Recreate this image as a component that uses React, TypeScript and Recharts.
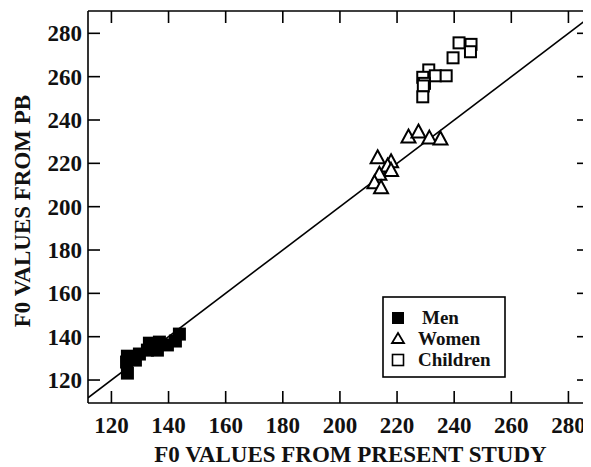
import React from 'react';
import { ScatterChart, Scatter, XAxis, YAxis, ReferenceLine, Legend, Label } from 'recharts';

// ---- data (F0 in Hz) ----
const menPresent = [125.6, 125.3, 125.6, 128.4, 129.8, 132.6, 133.3, 136.1, 136.8, 139.6, 142.4, 143.8];
const menPB = [123.2, 128.3, 131.0, 129.2, 132.0, 133.8, 137.0, 133.8, 137.5, 136.2, 138.0, 141.2];

const womenPresent = [213.2, 217.9, 216.7, 217.9, 213.8, 212.1, 214.4, 224.0, 227.5, 231.3, 235.2];
const womenPB = [223.0, 221.2, 219.2, 217.2, 215.4, 211.5, 209.2, 232.6, 234.9, 232.1, 231.7];

const childPresent = [241.7, 245.9, 245.7, 239.6, 231.1, 229.0, 233.4, 237.2, 229.6, 229.2, 229.0];
const childPB = [275.6, 274.9, 271.5, 268.7, 263.1, 259.7, 260.4, 260.4, 256.9, 255.7, 250.7];

const xTicks = [120, 140, 160, 180, 200, 220, 240, 260, 280];
const yTicks = [120, 140, 160, 180, 200, 220, 240, 260, 280];
const xDomain = [111.8, 287.2];
const yDomain = [109.4, 290.3];
const identityLine = [111.8, 290];

const seriesNames = ['Men', 'Women', 'Children'];

const toPoints = (xs: number[], ys: number[]) => xs.map((x, i) => ({ x, y: ys[i] }));
const menData = toPoints(menPresent, menPB);
const womenData = toPoints(womenPresent, womenPB);
const childData = toPoints(childPresent, childPB);

const FONT = '"Liberation Serif", "Times New Roman", serif';
const FS = 23;
const TICK_LEN = 12;
const SW = 1.6;

const BottomTick = (p: any) => (
  <g>
    <line x1={p.x} x2={p.x} y1={p.y} y2={p.y - TICK_LEN} stroke="#000" strokeWidth={SW} />
    <text x={p.x} y={p.y + 30} textAnchor="middle" fontFamily={FONT} fontSize={FS} fontWeight="bold" fill="#111">
      {p.payload.value}
    </text>
  </g>
);
const LeftTick = (p: any) => (
  <g>
    <line x1={p.x} x2={p.x + TICK_LEN} y1={p.y} y2={p.y} stroke="#000" strokeWidth={SW} />
    <text x={p.x - 6} y={p.y} dy="0.35em" textAnchor="end" fontFamily={FONT} fontSize={FS} fontWeight="bold" fill="#111">
      {p.payload.value}
    </text>
  </g>
);
const TopTick = (p: any) => (
  <line x1={p.x} x2={p.x} y1={p.y} y2={p.y + TICK_LEN} stroke="#000" strokeWidth={SW} />
);
const RightTick = (p: any) => (
  <line x1={p.x} x2={p.x - TICK_LEN} y1={p.y} y2={p.y} stroke="#000" strokeWidth={SW} />
);

const S = 13;
const FilledSquare = (p: any) => (
  <rect x={p.cx - S / 2} y={p.cy - S / 2} width={S} height={S} fill="#000" stroke="none" />
);
const OpenSquare = (p: any) => (
  <rect x={p.cx - S / 2 + 1} y={p.cy - S / 2 + 1} width={S - 2} height={S - 2} fill="#fff" stroke="#000" strokeWidth={2} />
);
const OpenTriangle = (p: any) => {
  const h = 13;
  const w = 14;
  const pts = `${p.cx},${p.cy - h / 2} ${p.cx + w / 2},${p.cy + h / 2} ${p.cx - w / 2},${p.cy + h / 2}`;
  return <polygon points={pts} fill="#fff" stroke="#000" strokeWidth={2} strokeLinejoin="miter" />;
};

const LegendBox = () => (
  <svg width={124} height={82} style={{ display: 'block' }}>
    <rect x={1} y={1} width={122} height={80} fill="#fff" stroke="#000" strokeWidth={1.6} />
    <rect x={10} y={16} width={12} height={12} fill="#000" />
    <polygon points="16,37 22,47 10,47" fill="#fff" stroke="#000" strokeWidth={1.8} />
    <rect x={10.5} y={58.5} width={11} height={11} fill="#fff" stroke="#000" strokeWidth={1.6} />
    {seriesNames.map((n, i) => (
      <text key={n} x={i === 0 ? 40 : 36} y={[28, 49, 70][i]} fontFamily={FONT} fontSize={19} fontWeight="bold" fill="#111">
        {n}
      </text>
    ))}
  </svg>
);

export default function App() {
  return (
    <ScatterChart width={582} height={459} margin={{ top: 2, right: 0, bottom: 0, left: 0 }}>
      <XAxis
        xAxisId="b"
        dataKey="x"
        type="number"
        orientation="bottom"
        domain={xDomain}
        ticks={xTicks}
        interval={0}
        allowDataOverflow
        height={64}
        tickSize={0}
        tickMargin={0}
        tickLine={false}
        axisLine={{ stroke: '#000', strokeWidth: SW }}
        tick={(p: any) => <BottomTick {...p} />}
      >
        <Label
          content={(lp: any) => {
            const vb = lp.viewBox;
            return (
              <text x={vb.x + vb.width / 2 + 12} y={vb.y + 59} textAnchor="middle" fontFamily={FONT} fontSize={FS} fontWeight="bold" fill="#111">
                F0 VALUES FROM PRESENT STUDY
              </text>
            );
          }}
        />
      </XAxis>
      <XAxis
        xAxisId="t"
        dataKey="x"
        type="number"
        orientation="top"
        domain={xDomain}
        ticks={xTicks}
        interval={0}
        allowDataOverflow
        height={1}
        tickSize={0}
        tickMargin={0}
        tickLine={false}
        axisLine={{ stroke: '#000', strokeWidth: SW }}
        tick={(p: any) => <TopTick {...p} />}
      />
      <YAxis
        yAxisId="l"
        dataKey="y"
        type="number"
        orientation="left"
        domain={yDomain}
        ticks={yTicks}
        interval={0}
        allowDataOverflow
        width={80}
        tickSize={0}
        tickMargin={0}
        tickLine={false}
        axisLine={{ stroke: '#000', strokeWidth: SW }}
        tick={(p: any) => <LeftTick {...p} />}
      >
        <Label
          content={(lp: any) => {
            const vb = lp.viewBox;
            const cx = vb.x + 14;
            const cy = vb.y + vb.height / 2 + 4;
            return (
              <text x={cx} y={cy} transform={`rotate(-90 ${cx} ${cy})`} textAnchor="middle" dominantBaseline="central" fontFamily={FONT} fontSize={FS} fontWeight="bold" fill="#111">
                F0 VALUES FROM PB
              </text>
            );
          }}
        />
      </YAxis>
      <YAxis
        yAxisId="r"
        dataKey="y"
        type="number"
        orientation="right"
        domain={yDomain}
        ticks={yTicks}
        interval={0}
        allowDataOverflow
        width={1}
        tickSize={0}
        tickMargin={0}
        tickLine={false}
        axisLine={{ stroke: '#000', strokeWidth: SW }}
        tick={(p: any) => <RightTick {...p} />}
      />
      <ReferenceLine
        xAxisId="b"
        yAxisId="l"
        segment={[{ x: identityLine[0], y: identityLine[0] }, { x: identityLine[1], y: identityLine[1] }]}
        stroke="#000"
        strokeWidth={1.6}
        ifOverflow="hidden"
      />
      <Scatter name="Children" xAxisId="b" yAxisId="l" data={childData} shape={(p: any) => <OpenSquare {...p} />} isAnimationActive={false} />
      <Scatter name="Women" xAxisId="b" yAxisId="l" data={womenData} shape={(p: any) => <OpenTriangle {...p} />} isAnimationActive={false} />
      <Scatter name="Men" xAxisId="b" yAxisId="l" data={menData} shape={(p: any) => <FilledSquare {...p} />} isAnimationActive={false} />
      <Legend
        layout="horizontal"
        verticalAlign="middle"
        align="center"
        content={() => <LegendBox />}
        wrapperStyle={{ left: 374, top: 288, width: 124, height: 82 }}
      />
    </ScatterChart>
  );
}
